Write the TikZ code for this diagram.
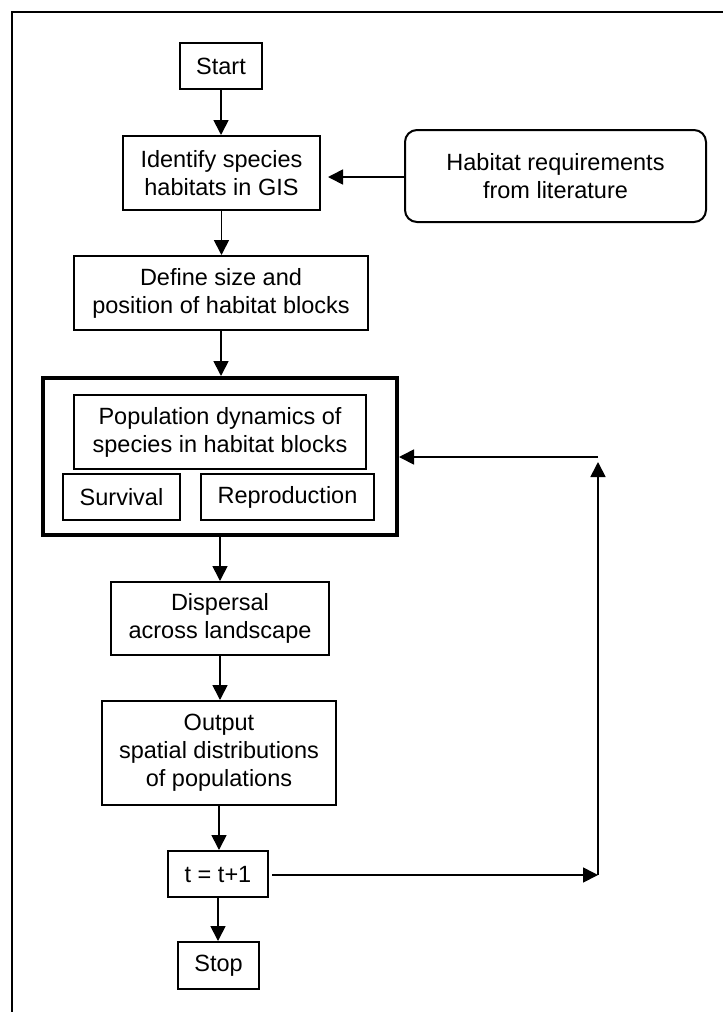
\documentclass[tikz,border=0pt]{standalone}
\usepackage{fontspec}
\setmainfont{Liberation Sans}
\usetikzlibrary{arrows.meta}
\begin{document}
\begin{tikzpicture}[x=1pt,y=-1pt,
  box/.style={draw=black,line width=2pt,rectangle,inner sep=0pt,align=center,
    font=\fontsize{23.5}{28}\selectfont},
  bigbox/.style={draw=black,line width=4pt,rectangle,inner sep=0pt},
  rbox/.style={box,rounded corners=12pt},
  arr/.style={line width=1.7pt,-{Triangle[length=15pt,width=15pt]}},
  ln/.style={line width=1.7pt}]
\useasboundingbox (0,0) rectangle (723,1012);
\fill[white] (0,0) rectangle (723,1012);
% frame
\draw[line width=1.4pt] (12,1012) -- (12,12) -- (723,12);
% nodes
\node[box,minimum width=82pt,minimum height=46pt] (start) at (221,66) {Start};
\node[box,minimum width=197pt,minimum height=74pt] (ident) at (221.5,173) {Identify species\\habitats in GIS};
\node[rbox,minimum width=301pt,minimum height=92pt] (habitat) at (555.5,176) {Habitat requirements\\from literature};
\node[box,minimum width=294pt,minimum height=74pt] (define) at (221,293) {Define size and\\position of habitat blocks};
\node[bigbox,minimum width=354pt,minimum height=157pt] (dyn) at (220,456.5) {};
\node[box,minimum width=292pt,minimum height=74pt] (popdyn) at (220,432) {Population dynamics of\\species in habitat blocks};
\node[box,minimum width=117pt,minimum height=46pt] (surv) at (121.5,497) {Survival};
\node[box,minimum width=173pt,minimum height=46pt] (repro) at (287.5,497) {Reproduction};
\node[box,minimum width=218pt,minimum height=73pt] (disp) at (220,618.5) {Dispersal\\across landscape};
\node[box,minimum width=234pt,minimum height=104pt] (output) at (219,753) {Output\\spatial distributions\\of populations};
\node[box,minimum width=100pt,minimum height=46pt] (tinc) at (218,874) {t = t+1};
\node[box,minimum width=81pt,minimum height=47pt] (stop) at (218.5,965.5) {Stop};
% helper coordinates
\coordinate (hp) at (328,177);
\coordinate (c1) at (598,875);
\coordinate (c2) at (598,462);
\coordinate (c3) at (598,457);
% connectors
\draw[arr] (start.south) -- (start.south |- ident.north);
\draw[arr] (habitat.west |- hp) -- (hp);
\draw[arr] (ident.south) -- (ident.south |- define.north);
\draw[arr] (define.south) -- (define.south |- dyn.north);
\draw[arr] (disp.north |- dyn.south) -- (disp.north);
\draw[arr] (disp.south) -- (disp.south |- output.north);
\draw[arr] (output.south) -- (output.south |- tinc.north);
\draw[arr] (tinc.south) -- (tinc.south |- stop.north);
\draw[arr] ([xshift=3pt]tinc.east |- c1) -- (c1);
\draw[arr] (c1) -- (c2);
\draw[arr] (c3) -- (dyn.east |- c3);
\end{tikzpicture}
\end{document}
